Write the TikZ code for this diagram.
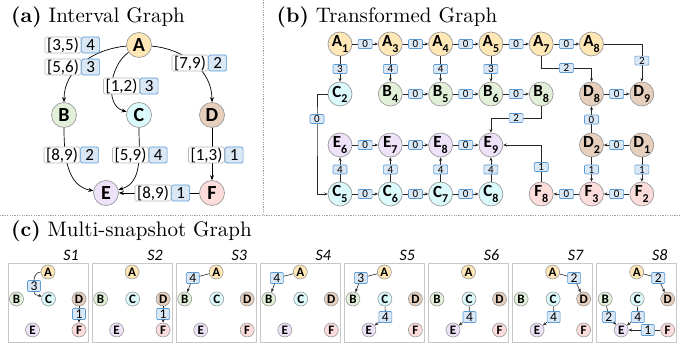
\documentclass[tikz,border=0pt]{standalone}
\usepackage{fontspec}
\newfontfamily\carl{Carlito}
\usetikzlibrary{arrows.meta,calc}
\pgfdeclarelayer{bg}
\pgfsetlayers{bg,main}
\definecolor{cA}{HTML}{FFE8B6}
\definecolor{cB}{HTML}{E2EFD9}
\definecolor{cC}{HTML}{DBFAFC}
\definecolor{cD}{HTML}{E6CFBC}
\definecolor{cE}{HTML}{EDE2F8}
\definecolor{cF}{HTML}{FDDCDC}
\definecolor{wfill}{HTML}{DAE7F5}
\definecolor{wdraw}{HTML}{5B9BD5}
\definecolor{ndraw}{HTML}{9A9A9A}
\definecolor{sepc}{HTML}{A0A0A0}
\newcommand\subl[2]{#1\raisebox{-0.3em}{\fontsize{12}{12}\selectfont #2}}
\newcommand\ttltext[1]{\scalebox{2.1}{\fontsize{10}{12}\selectfont #1}}
\tikzset{
  ttl/.style={anchor=base west, inner sep=0pt},
  an/.style={circle, draw=ndraw, line width=0.7pt, minimum size=25pt, inner sep=0pt, font=\carl\bfseries\fontsize{20}{20}\selectfont},
  bn/.style={circle, draw=ndraw, line width=0.7pt, minimum size=24pt, inner sep=0pt, font=\carl\bfseries\fontsize{17}{17}\selectfont},
  cn/.style={circle, draw=ndraw, line width=0.6pt, minimum size=14pt, inner sep=0pt, font=\carl\bfseries\fontsize{13}{13}\selectfont},
  ivl/.style={draw=ndraw!70, fill=white, rounded corners=1.5pt, line width=0.6pt, inner sep=0pt, minimum height=16pt, minimum width=36pt, font=\carl\fontsize{17}{17}\selectfont},
  wa/.style={draw=wdraw, fill=wfill, rounded corners=1.5pt, line width=0.6pt, inner sep=0pt, minimum height=16pt, minimum width=18pt, font=\carl\fontsize{17}{17}\selectfont, anchor=west},
  wb/.style={draw=wdraw, fill=wfill, rounded corners=1pt, line width=0.6pt, inner sep=0pt, minimum height=9pt, minimum width=14pt, font=\carl\fontsize{11}{11}\selectfont},
  wc/.style={draw=wdraw, fill=wfill, rounded corners=1pt, line width=0.6pt, inner sep=0pt, minimum height=11pt, minimum width=13pt, font=\carl\fontsize{13.5}{13.5}\selectfont},
  arr/.style={draw=black, line width=0.7pt, -{Stealth[length=5pt,width=4pt]}},
  arrb/.style={draw=black!85, line width=0.6pt, -{Stealth[length=3.5pt,width=3pt]}},
  arrs/.style={draw=black!85, line width=0.6pt, -{Stealth[length=3.5pt,width=3pt]}},
  ln/.style={draw=black!85, line width=0.6pt},
  sbox/.style={draw=black!22, line width=0.9pt},
  slab/.style={font=\carl\itshape\fontsize{16}{16}\selectfont, inner sep=0pt},
  sep/.style={draw=sepc, line width=0.6pt, dash pattern=on 1.2pt off 1.2pt},
}
\begin{document}
\begin{tikzpicture}[x=1pt,y=-1pt]
\useasboundingbox (0,0) rectangle (681,344);
% separators
\draw[sep] (263,0) -- (263,214);
\draw[sep] (0,215) -- (681,215);
% titles
\node[ttl] (ta) at (11,22.5) {\ttltext{\textbf{(a)} Interval Graph}};
\node[ttl] (tb) at (276.5,22.5) {\ttltext{\textbf{(b)} Transformed Graph}};
\node[ttl] (tc) at (11,236.5) {\ttltext{\textbf{(c)} Multi-snapshot Graph}};
% ---------- (a)
\node[an, fill=cA] (A) at (139,45) {A};
\node[an, fill=cB] (B) at (64,115) {B};
\node[an, fill=cC] (C) at (139,115) {C};
\node[an, fill=cD] (D) at (212,115) {D};
\node[an, fill=cE] (E) at (106,193) {E};
\node[an, fill=cF] (F) at (212,193) {F};
\node[ivl] (i1) at (63,45) {[3,5)}; \node[wa] (w1) at (i1.east) {4};
\node[ivl] (i2) at (63,67) {[5,6)}; \node[wa] (w2) at (i2.east) {3};
\node[ivl] (i3) at (190,63) {[7,9)}; \node[wa] (w3) at (i3.east) {2};
\node[ivl] (i4) at (121.5,86) {[1,2)}; \node[wa] (w4) at (i4.east) {3};
\node[ivl] (i5) at (62,155) {[8,9)}; \node[wa] (w5) at (i5.east) {2};
\node[ivl] (i6) at (130.5,155) {[5,9)}; \node[wa] (w6) at (i6.east) {4};
\node[ivl] (i7) at (206.5,155) {[1,3)}; \node[wa] (w7) at (i7.east) {1};
\node[ivl] (i8) at (153,193) {[8,9)}; \node[wa] (w8) at (i8.east) {1};
\begin{pgfonlayer}{bg}
\draw[arr] (A) to[out=185,in=90] (B);
\draw[arr] (A) to[out=215,in=165] (C);
\draw[arr] (A) to[out=-5,in=90] (D);
\draw[arr] (B) to[out=270,in=170] (E);
\draw[arr] (C) to[out=270,in=15] (E);
\draw[arr] (D) -- (F);
\draw[arr] (F) -- (E);
\end{pgfonlayer}
% ---------- (b)
\node[bn, fill=cA] (bA1) at (340,44) {\subl{A}{1}};
\node[bn, fill=cA] (bA3) at (390.3,44) {\subl{A}{3}};
\node[bn, fill=cA] (bA4) at (440.6,44) {\subl{A}{4}};
\node[bn, fill=cA] (bA5) at (490.9,44) {\subl{A}{5}};
\node[bn, fill=cA] (bA7) at (541.2,44) {\subl{A}{7}};
\node[bn, fill=cA] (bA8) at (591.5,44) {\subl{A}{8}};
\node[bn, fill=cC] (bC2) at (340,94) {\subl{C}{2}};
\node[bn, fill=cB] (bB4) at (390.3,94) {\subl{B}{4}};
\node[bn, fill=cB] (bB5) at (440.6,94) {\subl{B}{5}};
\node[bn, fill=cB] (bB6) at (490.9,94) {\subl{B}{6}};
\node[bn, fill=cB] (bB8) at (541.2,94) {\subl{B}{8}};
\node[bn, fill=cD] (bD8) at (591.5,94) {\subl{D}{8}};
\node[bn, fill=cD] (bD9) at (641.8,94) {\subl{D}{9}};
\node[bn, fill=cE] (bE6) at (340,145) {\subl{E}{6}};
\node[bn, fill=cE] (bE7) at (390.3,145) {\subl{E}{7}};
\node[bn, fill=cE] (bE8) at (440.6,145) {\subl{E}{8}};
\node[bn, fill=cE] (bE9) at (490.9,145) {\subl{E}{9}};
\node[bn, fill=cD] (bD2) at (591.5,145) {\subl{D}{2}};
\node[bn, fill=cD] (bD1) at (641.8,145) {\subl{D}{1}};
\node[bn, fill=cC] (bC5) at (340,194) {\subl{C}{5}};
\node[bn, fill=cC] (bC6) at (390.3,194) {\subl{C}{6}};
\node[bn, fill=cC] (bC7) at (440.6,194) {\subl{C}{7}};
\node[bn, fill=cC] (bC8) at (490.9,194) {\subl{C}{8}};
\node[bn, fill=cF] (bF8) at (541.2,194) {\subl{F}{8}};
\node[bn, fill=cF] (bF3) at (591.5,194) {\subl{F}{3}};
\node[bn, fill=cF] (bF2) at (641.8,194) {\subl{F}{2}};
\coordinate (k1) at (591.5,68);
\coordinate (k2) at (490.9,118);
\coordinate (k3) at (317,119);
% row 1
\draw[arrb] (bA1) -- node[wb]{0} (bA3);
\draw[arrb] (bA3) -- node[wb]{0} (bA4);
\draw[arrb] (bA4) -- node[wb]{0} (bA5);
\draw[arrb] (bA5) -- node[wb]{0} (bA7);
\draw[arrb] (bA7) -- node[wb]{0} (bA8);
\draw[arrb] (bA1) -- node[wb]{3} (bC2);
\draw[arrb] (bA3) -- node[wb]{4} (bB4);
\draw[arrb] (bA4) -- node[wb]{4} (bB5);
\draw[arrb] (bA5) -- node[wb]{3} (bB6);
\draw[arrb] (bA7) |- node[wb, pos=0.75]{2} (k1) -- (bD8);
\draw[arrb] (bA8) -| node[wb, pos=0.72]{2} (bD9);
% row 2
\draw[arrb] (bB4) -- node[wb]{0} (bB5);
\draw[arrb] (bB5) -- node[wb]{0} (bB6);
\draw[arrb] (bB6) -- node[wb]{0} (bB8);
\draw[arrb] (bD8) -- node[wb]{0} (bD9);
\draw[arrb] (bB8) |- node[wb, pos=0.75]{2} (k2) -- (bE9);
\draw[arrb] (bC2) -| (k3) node[wb]{0} |- (bC5);
% row 3
\draw[arrb] (bE6) -- node[wb]{0} (bE7);
\draw[arrb] (bE7) -- node[wb]{0} (bE8);
\draw[arrb] (bE8) -- node[wb]{0} (bE9);
\draw[arrb] (bD1) -- node[wb]{0} (bD2);
\draw[arrb] (bD2) -- node[wb]{0} (bD8);
\draw[arrb] (bD2) -- node[wb]{1} (bF3);
\draw[arrb] (bD1) -- node[wb]{1} (bF2);
% row 4
\draw[arrb] (bC5) -- node[wb]{0} (bC6);
\draw[arrb] (bC6) -- node[wb]{0} (bC7);
\draw[arrb] (bC7) -- node[wb]{0} (bC8);
\draw[arrb] (bF2) -- node[wb]{0} (bF3);
\draw[arrb] (bF3) -- node[wb]{0} (bF8);
\draw[arrb] (bC5) -- node[wb]{4} (bE6);
\draw[arrb] (bC6) -- node[wb]{4} (bE7);
\draw[arrb] (bC7) -- node[wb]{4} (bE8);
\draw[arrb] (bC8) -- node[wb]{4} (bE9);
\draw[arrb] (bF8) |- node[wb, pos=0.2]{1} (bE9);
% ---------- (c)
\foreach \i in {1,...,8} {
  \pgfmathsetmacro\L{8+84.1*(\i-1)}
  \begin{scope}[shift={(\L,0)}]
    \draw[sbox] (0,263) rectangle (80,342);
    \node[slab] (s\i-t) at (63,255) {S\i};
    \node[cn, fill=cA] (s\i-A) at (40,272) {A};
    \node[cn, fill=cB] (s\i-B) at (8.5,299) {B};
    \node[cn, fill=cC] (s\i-C) at (40.5,299) {C};
    \node[cn, fill=cD] (s\i-D) at (71,299) {D};
    \node[cn, fill=cE] (s\i-E) at (24.5,330) {E};
    \node[cn, fill=cF] (s\i-F) at (71,330) {F};
  \end{scope}
}
% S1
\node[wc] (s1-l1) at (34,286) {3};
\draw[ln] (s1-A) to[out=180,in=90] (s1-l1);
\draw[arrs] (s1-l1) to[out=270,in=160] (s1-C);
\node[wc] (s1-l2) at (79,314) {1};
\draw[ln] (s1-D) -- (s1-l2); \draw[arrs] (s1-l2) -- (s1-F);
% S2
\node[wc] (s2-l2) at (163.1,314) {1};
\draw[ln] (s2-D) -- (s2-l2); \draw[arrs] (s2-l2) -- (s2-F);
% S3
\node[wc] (s3-l1) at (192.7,278) {4};
\draw[ln] (s3-A) -- (s3-l1); \draw[arrs] (s3-l1) -- (s3-B);
% S4
\node[wc] (s4-l1) at (276.8,278) {4};
\draw[ln] (s4-A) -- (s4-l1); \draw[arrs] (s4-l1) -- (s4-B);
% S5
\node[wc] (s5-l1) at (360.9,278) {3};
\draw[ln] (s5-A) -- (s5-l1); \draw[arrs] (s5-l1) -- (s5-B);
\node[wc] (s5-l2) at (385.4,317) {4};
\draw[ln] (s5-C) -- (s5-l2); \draw[arrs] (s5-l2) -- (s5-E);
% S6
\node[wc] (s6-l2) at (469.5,317) {4};
\draw[ln] (s6-C) -- (s6-l2); \draw[arrs] (s6-l2) -- (s6-E);
% S7
\node[wc] (s7-l1) at (574.1,278) {2};
\draw[ln] (s7-A) -- (s7-l1); \draw[arrs] (s7-l1) -- (s7-D);
\node[wc] (s7-l2) at (553.6,317) {4};
\draw[ln] (s7-C) -- (s7-l2); \draw[arrs] (s7-l2) -- (s7-E);
% S8
\node[wc] (s8-l1) at (658.2,278) {2};
\draw[ln] (s8-A) -- (s8-l1); \draw[arrs] (s8-l1) -- (s8-D);
\node[wc] (s8-l2) at (637.7,317) {4};
\draw[ln] (s8-C) -- (s8-l2); \draw[arrs] (s8-l2) -- (s8-E);
\node[wc] (s8-l3) at (608.7,317) {2};
\draw[ln] (s8-B) -- (s8-l3); \draw[arrs] (s8-l3) -- (s8-E);
\node[wc] (s8-l4) at (647.7,330) {1};
\draw[ln] (s8-F) -- (s8-l4); \draw[arrs] (s8-l4) -- (s8-E);
\end{tikzpicture}
\end{document}
